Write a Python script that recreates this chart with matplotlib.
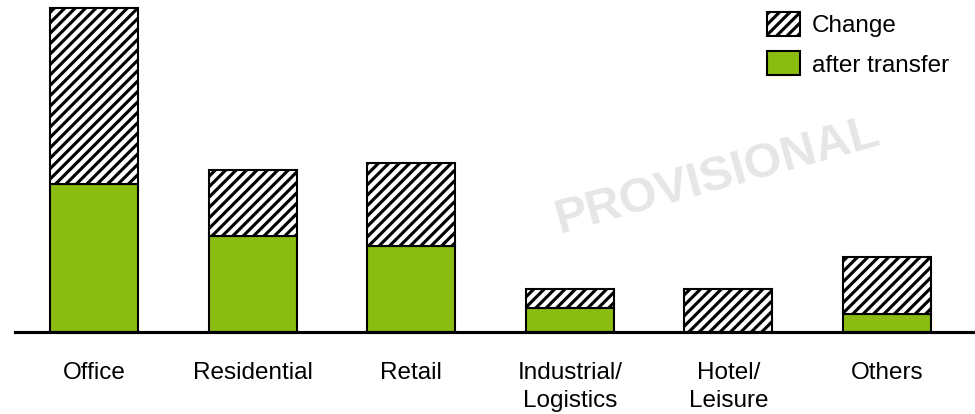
import matplotlib
matplotlib.use("Agg")
import matplotlib.pyplot as plt
import numpy as np

plt.rcParams["font.family"] = ["Liberation Sans", "DejaVu Sans"]
plt.rcParams["hatch.linewidth"] = 1.8

categories = ["Office", "Residential", "Retail", "Industrial/\nLogistics", "Hotel/\nLeisure", "Others"]
after_transfer = [148, 96, 86, 24, 0, 18]
change = [176, 66, 83, 19, 43, 57]

GREEN = "#8abd10"

fig = plt.figure(figsize=(7.8, 3.312), dpi=125)
ax = fig.add_axes([15 / 975, 82 / 414, 960 / 975, 332 / 414])

x = np.arange(len(categories))
width = 0.555

ax.bar(x, after_transfer, width, color=GREEN, edgecolor="black",
       linewidth=1.2, label="after transfer", zorder=2)
ax.bar(x, change, width, bottom=after_transfer, color="white",
       edgecolor="black", hatch="////", linewidth=1.2, label="Change", zorder=2)

ax.set_xlim(-0.498, 5.555)
ax.set_ylim(0, 332)

for side in ["left", "right", "top"]:
    ax.spines[side].set_visible(False)
ax.spines["bottom"].set_linewidth(1.8)
ax.spines["bottom"].set_zorder(3)

ax.set_yticks([])
ax.set_xticks(x)
ax.set_xticklabels(categories, fontsize=14, linespacing=1.32)
ax.tick_params(axis="x", length=0, pad=17.5)

handles, labels = ax.get_legend_handles_labels()
ax.legend(handles[::-1], labels[::-1], loc="upper right", frameon=False,
          fontsize=14, handlelength=1.36, handleheight=1.15,
          labelspacing=0.58, handletextpad=0.5,
          bbox_to_anchor=(0.996, 1.03))

ax.text(0.732, 0.47, "PROVISIONAL", transform=ax.transAxes, rotation=15.5,
        fontsize=28, fontweight="bold", color="#e6e6e6",
        ha="center", va="center", zorder=1)

fig.savefig("out.png", dpi=125)
